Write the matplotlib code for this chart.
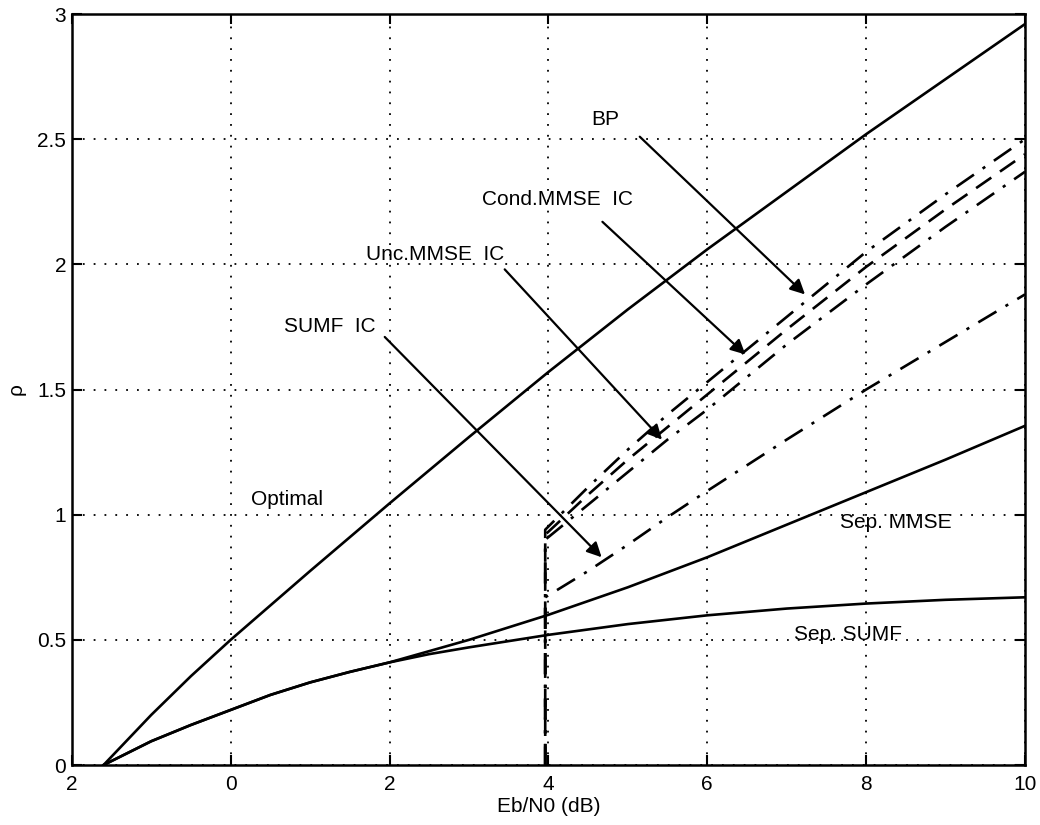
import matplotlib
matplotlib.use('Agg')
import matplotlib.pyplot as plt

plt.rcParams['font.family'] = ['Liberation Sans', 'DejaVu Sans']

# curve data
x_opt = [-1.6, -1.0, -0.5, 0, 1, 2, 3, 4, 5, 6, 7, 8, 9, 10]
y_opt = [0, 0.2, 0.355, 0.5, 0.775, 1.045, 1.31, 1.57, 1.82, 2.06, 2.29, 2.52, 2.74, 2.96]

x_sumf = [-1.6, -1.0, -0.5, 0, 0.5, 1, 1.5, 2, 2.5, 3, 4, 5, 6, 7, 8, 9, 10]
y_sumf = [0, 0.095, 0.16, 0.22, 0.28, 0.33, 0.372, 0.41, 0.443, 0.47, 0.52, 0.563, 0.598, 0.625, 0.645, 0.66, 0.67]

x_mmse = [-1.6, -1.0, -0.5, 0, 0.5, 1, 1.5, 2, 2.5, 3, 4, 5, 6, 7, 8, 9, 10]
y_mmse = [0, 0.095, 0.16, 0.22, 0.28, 0.33, 0.372, 0.41, 0.455, 0.5, 0.6, 0.71, 0.83, 0.96, 1.09, 1.22, 1.355]

x_ic = [3.96, 3.96, 4.5, 5, 5.5, 6, 7, 8, 9, 10]
y_sumf_ic = [0, 0.67, 0.775, 0.88, 0.99, 1.095, 1.30, 1.50, 1.69, 1.88]
y_unc_ic = [0, 0.90, 1.04, 1.17, 1.30, 1.42, 1.68, 1.92, 2.15, 2.37]
y_cond_ic = [0, 0.92, 1.08, 1.22, 1.35, 1.48, 1.74, 1.99, 2.22, 2.44]
y_bp = [0, 0.94, 1.11, 1.26, 1.40, 1.53, 1.79, 2.05, 2.28, 2.50]

x_ticks = [-2, 0, 2, 4, 6, 8, 10]
x_ticklabels = ['2', '0', '2', '4', '6', '8', '10']
y_ticks = [0, 0.5, 1, 1.5, 2, 2.5, 3]
y_ticklabels = ['0', '0.5', '1', '1.5', '2', '2.5', '3']

fig = plt.figure(figsize=(10.4, 8.25), dpi=100)
ax = fig.add_axes([0.069, 0.0727, 0.9166, 0.9103])

lw = 1.9
dashdot = (0, (8, 4, 1.2, 4))
ax.plot(x_opt, y_opt, 'k-', lw=lw)
ax.plot(x_sumf, y_sumf, 'k-', lw=lw)
ax.plot(x_mmse, y_mmse, 'k-', lw=lw)
ax.plot(x_ic, y_sumf_ic, 'k', lw=lw, linestyle=dashdot)
ax.plot(x_ic, y_unc_ic, 'k', lw=lw, linestyle=dashdot)
ax.plot(x_ic, y_cond_ic, 'k', lw=lw, linestyle=(0, (7, 4)))
ax.plot(x_ic, y_bp, 'k', lw=lw, linestyle=dashdot)

arrow = dict(arrowstyle='-|>', color='k', lw=1.6, mutation_scale=22, shrinkA=0, shrinkB=0)
ax.annotate('', xy=(7.23, 1.88), xytext=(5.15, 2.51), arrowprops=arrow)
ax.annotate('', xy=(6.48, 1.64), xytext=(4.68, 2.17), arrowprops=arrow)
ax.annotate('', xy=(5.43, 1.30), xytext=(3.45, 1.98), arrowprops=arrow)
ax.annotate('', xy=(4.67, 0.83), xytext=(1.94, 1.71), arrowprops=arrow)

fs = 15
ax.text(4.71, 2.58, 'BP', fontsize=fs, ha='center', va='center')
ax.text(4.11, 2.26, 'Cond.MMSE  IC', fontsize=fs, ha='center', va='center')
ax.text(2.57, 2.04, 'Unc.MMSE  IC', fontsize=fs, ha='center', va='center')
ax.text(1.25, 1.75, 'SUMF  IC', fontsize=fs, ha='center', va='center')
ax.text(0.71, 1.06, 'Optimal', fontsize=fs, ha='center', va='center')
ax.text(8.37, 0.97, 'Sep. MMSE', fontsize=fs, ha='center', va='center')
ax.text(7.77, 0.52, 'Sep. SUMF', fontsize=fs, ha='center', va='center')

ax.set_xlim(-2, 10)
ax.set_ylim(0, 3)
ax.set_xticks(x_ticks)
ax.set_xticklabels(x_ticklabels)
ax.set_yticks(y_ticks)
ax.set_yticklabels(y_ticklabels)
ax.tick_params(direction='in', top=True, right=True, length=7, width=1.5,
               labelsize=fs, pad=4)
ax.tick_params(axis='x', pad=7)
ax.grid(True, color='k', linestyle=(0, (1, 5)), linewidth=1.3)
for s in ax.spines.values():
    s.set_linewidth(1.8)

ax.set_xlabel('Eb/N0 (dB)', fontsize=fs, labelpad=2)
ax.set_ylabel('ρ', fontsize=fs, labelpad=8)

fig.savefig('out.png', dpi=100)
